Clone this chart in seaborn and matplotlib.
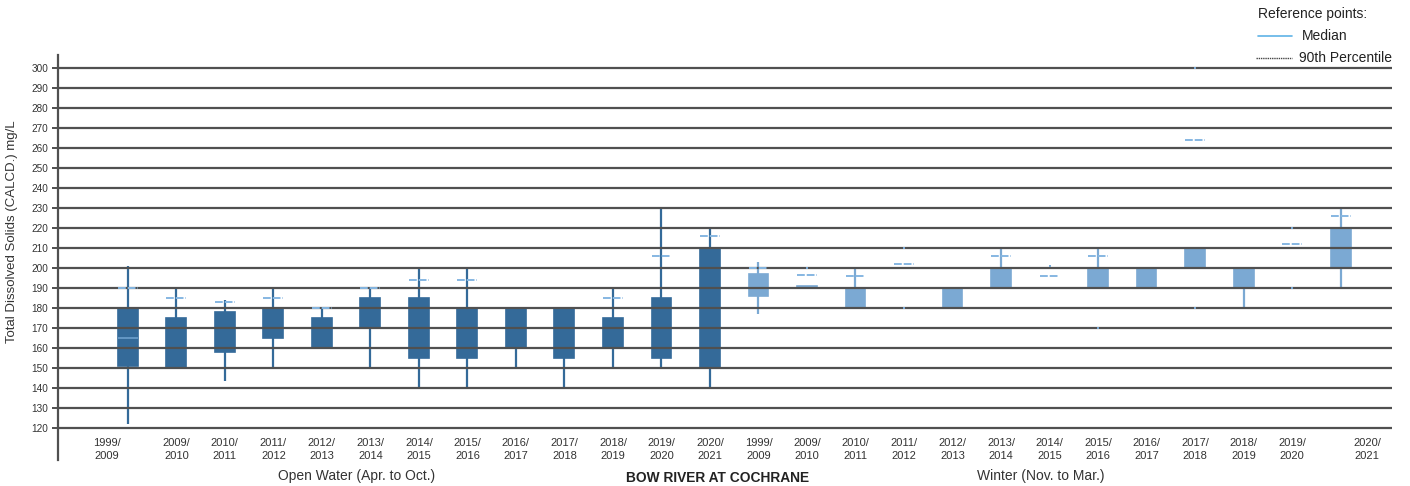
import numpy as np
import pandas as pd
import matplotlib
matplotlib.use("Agg")
import matplotlib.pyplot as plt
from matplotlib.lines import Line2D
import seaborn as sns

# ---- data (Total Dissolved Solids, mg/L) ----
years = ["1999/\n2009", "2009/\n2010", "2010/\n2011", "2011/\n2012", "2012/\n2013",
         "2013/\n2014", "2014/\n2015", "2015/\n2016", "2016/\n2017", "2017/\n2018",
         "2018/\n2019", "2019/\n2020", "2020/\n2021"]

# Open water season (Apr. to Oct.)
ow_low = [122, 150, 143.5, 150, 160, 150, 140, 140, 150, 140, 150, 150, 140]
ow_q1 = [151, 150, 158, 165, 160, 170, 155, 155, 160, 155, 160, 155, 150]
ow_q3 = [180, 175, 178, 180, 175, 185, 185, 180, 180, 180, 175, 185, 210]
ow_high = [201, 190, 184, 190, 180, 190, 200, 200, 180, 180, 190, 230, 220]
ow_p90 = [190, 185, 183, 185, 180, 190, 194, 194, np.nan, np.nan, 185, 206, 216]
ow_median_ref = [165, np.nan, np.nan, np.nan, np.nan, np.nan, np.nan, np.nan,
                 np.nan, np.nan, np.nan, np.nan, np.nan]

# Winter season (Nov. to Mar.)
wi_low = [177, 190, 180, 190, 180, 190, 190, 190, 190, 200, 180, 200, 190]
wi_q1 = [186, 190, 180, 190, 180, 190, 190, 190, 190, 200, 190, 200, 200]
wi_q3 = [197, 191, 190, 190, 190, 200, 190, 200, 200, 210, 200, 200, 220]
wi_high = [203, 191, 200, 190, 190, 210, 190, 210, 200, 210, 200, 200, 230]
wi_p90 = [200, 196.5, 196, 202, np.nan, 206, 196, 206, np.nan, 264, np.nan, 212, 226]

# isolated winter extremes shown as points
wi_point_year = ["2009/\n2010", "2011/\n2012", "2011/\n2012", "2014/\n2015", "2015/\n2016",
                 "2017/\n2018", "2017/\n2018", "2019/\n2020", "2019/\n2020"]
wi_point_val = [200, 210, 180, 201, 170, 300, 180, 220, 190]

y_ticks = list(range(120, 301, 10))

# ---- styling ----
OW_COLOR = "#346a99"
WI_COLOR = "#7ba9d3"
REF_COLOR = "#86b7e2"
GRID_COLOR = "#505050"
TEXT_COLOR = "#333333"

sns.set_theme(style="white")
plt.rcParams["font.family"] = ["Liberation Sans", "DejaVu Sans"]

fig = plt.figure(figsize=(14.1, 4.86), dpi=100)
ax = fig.add_axes([58 / 1410, 1 - 460 / 486, (1392 - 58) / 1410, (460 - 55) / 486])

ow_keys = ["OW " + y for y in years]
wi_keys = ["WI " + y for y in years]
order = ow_keys + wi_keys
ow_pos = np.arange(len(years))
wi_pos = np.arange(len(years)) + len(years)

ow_df = pd.DataFrame({"key": ow_keys, "low": ow_low, "q1": ow_q1, "q3": ow_q3, "high": ow_high})
wi_df = pd.DataFrame({"key": wi_keys, "low": wi_low, "q1": wi_q1, "q3": wi_q3, "high": wi_high})
for df in (ow_df, wi_df):
    df["iqr"] = df["q3"] - df["q1"]

BOX_W = 0.41

# whiskers
ax.vlines(ow_pos, ow_df["low"], ow_df["high"], color=OW_COLOR, lw=1.6, zorder=1)
ax.vlines(wi_pos, wi_df["low"], wi_df["high"], color=WI_COLOR, lw=1.6, zorder=1)

# boxes: interquartile range drawn as floating bars
for df, col in ((ow_df, OW_COLOR), (wi_df, WI_COLOR)):
    sns.barplot(data=df, x="key", y="iqr", order=order, color=col, saturation=1,
                width=BOX_W, errorbar=None, bottom=df["q1"].to_numpy(),
                edgecolor=col, linewidth=1.2, ax=ax, zorder=2)

# isolated extremes
pos_lookup = dict(zip(years, wi_pos))
pts = pd.DataFrame({"x": [pos_lookup[y] for y in wi_point_year], "y": wi_point_val})
sns.scatterplot(data=pts, x="x", y="y", marker="s", s=3, color=WI_COLOR,
                linewidth=0, ax=ax, zorder=3, legend=False)

# reference points
ref_style = dict(color=REF_COLOR, lw=1.4, linestyle=(0, (4, 1)), zorder=4)
ax.hlines(ow_p90, ow_pos - BOX_W / 2, ow_pos + BOX_W / 2, **ref_style)
ax.hlines(wi_p90, wi_pos - BOX_W / 2, wi_pos + BOX_W / 2, **ref_style)
ax.hlines(ow_median_ref, ow_pos - BOX_W / 2, ow_pos + BOX_W / 2,
          color=REF_COLOR, lw=1.4, alpha=0.6, zorder=4)

# axes
ax.set_xlim(-1.44, 26.06)
ax.set_ylim(104, 306.5)
ax.set_yticks(y_ticks)
ax.tick_params(axis="y", labelsize=7.2, labelcolor=TEXT_COLOR, length=4, width=1.4,
               color=GRID_COLOR, pad=3, left=True)
ax.yaxis.grid(True, color=GRID_COLOR, lw=1.6)
ax.set_axisbelow(False)
for line in ax.get_ygridlines():
    line.set_zorder(2.5)

tick_pos = list(np.arange(len(order), dtype=float))
tick_pos[0] -= 0.43
tick_pos[-1] += 0.55
ax.set_xticks(tick_pos)
ax.set_xticklabels(years + years, fontsize=8, color=TEXT_COLOR, linespacing=1.4)
ax.tick_params(axis="x", length=0, pad=-16)
ax.set_xlabel("")

ax.set_ylabel("Total Dissolved Solids (CALCD.) mg/L", fontsize=9.5, color=TEXT_COLOR)
ax.yaxis.set_label_coords(-0.030, 0.563)

for side in ("top", "right", "bottom"):
    ax.spines[side].set_visible(False)
ax.spines["left"].set_color(GRID_COLOR)
ax.spines["left"].set_linewidth(1.6)

# section captions and title
fig.text(357 / 1410, 1 - 476 / 486, "Open Water (Apr. to Oct.)", ha="center", va="center",
         fontsize=10, color=TEXT_COLOR)
fig.text(718 / 1410, 1 - 478 / 486, "BOW RIVER AT COCHRANE", ha="center", va="center",
         fontsize=9.9, fontweight="bold", color="#222222")
fig.text(1041 / 1410, 1 - 476 / 486, "Winter (Nov. to Mar.)", ha="center", va="center",
         fontsize=10, color=TEXT_COLOR)

# reference key
fig.text(1258 / 1410, 1 - 14 / 486, "Reference points:", ha="left", va="center",
         fontsize=10, color="#222222")
fig.add_artist(Line2D([1258 / 1410, 1292 / 1410], [1 - 36 / 486] * 2, color="#5fb3e6", lw=1.2))
fig.text(1302 / 1410, 1 - 36 / 486, "Median", ha="left", va="center", fontsize=10,
         color="#222222")
fig.add_artist(Line2D([1256 / 1410, 1292 / 1410], [1 - 58 / 486] * 2, color="#444444",
                      lw=1.0, linestyle=(0, (1, 0.6))))
fig.text(1299 / 1410, 1 - 58 / 486, "90th Percentile", ha="left", va="center", fontsize=10,
         color="#222222")

fig.savefig("out.png", dpi=100)
